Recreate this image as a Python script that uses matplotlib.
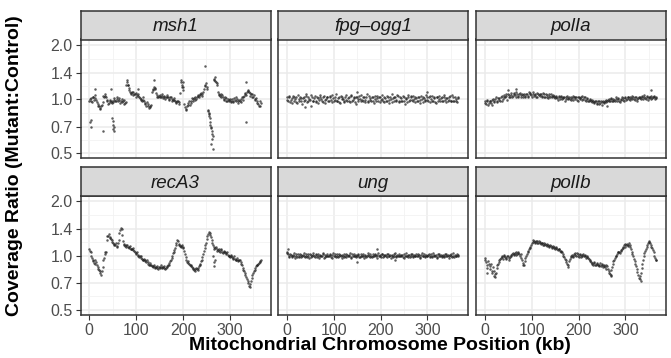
import numpy as np
import matplotlib.pyplot as plt
from matplotlib.ticker import FixedLocator, NullFormatter

plt.rcParams['font.family'] = ['Liberation Sans', 'DejaVu Sans']

# window start positions (kb): one window every 3 kb, plus the in-between windows
positions = np.arange(0, 367, 3)
positions_b = positions[:-1] + 1.5

genes = ['msh1', 'fpg\u2013ogg1', 'polIa', 'recA3', 'ung', 'polIb']

msh1 = [0.98, 1.01, 0.96, 1.03, 1.05, 0.99, 0.94, 0.91, 0.88, 0.93,
        1.04, 1.06, 1.02, 0.97, 0.95, 0.99, 0.98, 0.96, 1.01, 0.97,
        1.02, 0.99, 0.95, 1.00, 0.97, 0.94, 0.96, 1.24, 1.15, 1.10,
        1.07, 1.09, 1.06, 1.08, 1.05, 1.04, 1.01, 0.99, 1.02, 0.97,
        0.94, 0.96, 0.92, 0.90, 0.93, 1.12, 1.16, 1.13, 1.05, 1.03,
        1.05, 1.02, 1.04, 1.03, 1.00, 1.05, 1.02, 1.00, 1.03, 0.98,
        1.01, 0.97, 0.95, 0.98, 0.96, 1.24, 1.20, 1.12, 0.90, 0.88,
        0.93, 0.97, 0.95, 1.01, 0.98, 1.03, 1.00, 1.05, 1.02, 1.07,
        1.04, 1.10, 1.18, 1.22, 1.14, 0.84, 0.72, 0.66, 0.62, 1.30,
        1.24, 1.20, 1.06, 1.04, 1.07, 1.02, 0.99, 1.01, 0.97, 0.99,
        1.00, 0.96, 0.98, 1.01, 0.97, 1.00, 0.95, 0.98, 1.00, 0.99,
        1.04, 1.06, 1.10, 1.12, 1.08, 1.06, 1.03, 1.05, 1.00, 0.97,
        0.94, 0.92, 0.95]
msh1_b = [1.00, 0.97, 1.02, 0.99, 1.01, 0.96, 0.92, 0.89, 0.91, 0.96,
          1.02, 1.04, 0.99, 0.94, 0.97, 0.96, 0.95, 0.99, 0.98, 1.00,
          0.97, 1.01, 0.98, 0.96, 0.99, 0.95, 1.19, 1.20, 1.12, 1.08,
          1.10, 1.05, 1.07, 1.03, 1.06, 1.02, 1.00, 0.98, 0.99, 0.95,
          0.92, 0.94, 0.89, 0.91, 1.10, 1.14, 1.15, 1.08, 1.02, 1.04,
          1.03, 1.06, 1.01, 1.04, 1.02, 1.03, 0.99, 1.02, 1.00, 0.99,
          0.99, 0.96, 0.97, 0.94, 1.08, 1.28, 1.16, 0.94, 0.87, 0.91,
          0.95, 0.93, 0.98, 1.00, 1.01, 0.99, 1.03, 1.04, 1.05, 1.08,
          1.06, 1.14, 1.20, 1.17, 0.87, 0.78, 0.69, 0.60, 1.27, 1.26,
          1.22, 1.09, 1.05, 1.02, 1.05, 1.00, 1.03, 0.98, 1.00, 0.97,
          0.98, 1.00, 0.96, 0.99, 1.02, 0.97, 0.99, 0.96, 1.02, 1.03,
          1.08, 1.05, 1.11, 1.09, 1.04, 1.07, 1.02, 0.99, 1.01, 0.95,
          0.91, 0.97]

fpg_ogg1 = [1.02, 0.97, 1.04, 0.99, 0.95, 1.03, 1.00, 0.96, 1.05, 0.98,
            1.01, 0.94, 1.03, 0.99, 1.06, 0.97, 1.00, 0.92, 1.02, 0.98,
            1.04, 0.96, 1.01, 0.99, 1.05, 0.97, 1.03, 0.95, 1.00, 1.02,
            0.98, 1.04, 0.96, 1.01, 0.99, 1.06, 0.97, 1.02, 0.95, 1.03,
            1.00, 0.97, 1.05, 0.98, 1.02, 0.96, 1.04, 0.99, 1.01, 0.94,
            1.03, 0.98, 1.00, 1.05, 0.97, 1.02, 0.99, 1.06, 0.96, 1.01,
            0.98, 1.03, 0.95, 1.00, 1.04, 0.97, 1.02, 0.99, 1.05, 0.96,
            1.01, 0.98, 1.03, 0.95, 1.00, 1.06, 0.97, 1.02, 0.99, 1.04,
            0.96, 1.01, 0.98, 1.03, 0.94, 1.00, 1.05, 0.97, 1.02, 0.99,
            1.04, 0.96, 1.01, 0.98, 1.03, 0.95, 1.00, 1.02, 0.97, 1.05,
            0.99, 1.02, 0.96, 1.04, 0.98, 1.01, 0.95, 1.03, 1.00, 0.97,
            1.02, 0.98, 1.05, 0.96, 1.01, 0.99, 1.04, 0.97, 1.02, 0.98,
            1.00, 0.96, 1.03]
fpg_ogg1_b = [0.99, 1.03, 0.96, 1.01, 1.04, 0.98, 1.02, 0.95, 1.00, 1.03,
              0.97, 1.01, 0.98, 1.04, 0.96, 1.02, 0.99, 1.05, 0.97, 1.01,
              0.98, 1.03, 0.95, 1.02, 1.00, 0.96, 1.04, 0.99, 1.03, 0.97,
              1.02, 0.99, 1.05, 0.97, 1.03, 0.98, 1.01, 0.96, 1.04, 1.00,
              0.96, 1.03, 0.99, 1.01, 0.97, 1.05, 0.98, 1.02, 0.96, 1.03,
              1.00, 1.04, 0.97, 0.99, 1.03, 0.96, 1.02, 0.98, 1.04, 0.99,
              1.02, 0.97, 1.04, 0.98, 1.01, 1.03, 0.96, 1.00, 0.98, 1.03,
              0.97, 1.04, 0.99, 1.02, 0.96, 1.01, 1.03, 0.98, 1.05, 0.97,
              1.02, 0.98, 1.04, 0.97, 1.01, 0.96, 1.02, 0.99, 1.04, 0.97,
              1.00, 1.03, 0.97, 1.02, 0.99, 1.04, 0.96, 1.01, 0.99, 1.02,
              0.97, 1.04, 1.00, 0.98, 1.03, 0.96, 1.02, 0.98, 1.04, 1.01,
              0.97, 1.03, 0.99, 1.01, 0.97, 1.03, 0.98, 1.05, 0.97, 1.02,
              0.98, 1.01]

polla = [0.97, 0.94, 0.99, 0.95, 0.98, 0.93, 1.00, 0.96, 1.02, 0.98,
         1.01, 0.98, 1.04, 1.00, 1.02, 1.06, 0.99, 1.05, 1.03, 1.08,
         1.04, 1.07, 1.02, 1.06, 1.03, 1.08, 1.05, 1.02, 1.07, 1.04,
         1.06, 1.03, 1.08, 1.05, 1.09, 1.04, 1.07, 1.03, 1.06, 1.04,
         1.07, 1.03, 1.06, 1.02, 1.05, 1.01, 1.04, 1.06, 1.02, 1.04,
         1.01, 1.03, 0.99, 1.04, 1.02, 1.00, 1.03, 0.98, 1.02, 1.00,
         1.03, 0.99, 1.01, 1.04, 1.00, 1.02, 0.98, 1.03, 1.01, 1.04,
         1.00, 1.02, 0.98, 1.01, 0.97, 0.99, 0.96, 0.98, 0.95, 0.97,
         0.94, 0.97, 0.95, 0.93, 0.98, 0.96, 0.99, 0.97, 1.00, 0.98,
         1.01, 0.97, 0.99, 1.02, 0.98, 1.00, 0.96, 0.99, 1.01, 0.98,
         1.02, 1.00, 1.03, 0.99, 1.01, 1.04, 1.00, 1.02, 0.98, 1.01,
         1.03, 1.00, 1.02, 1.05, 1.01, 1.03, 0.99, 1.02, 1.04, 1.01,
         1.03, 1.00, 1.02]
polla_b = [0.95, 0.98, 0.93, 0.97, 0.95, 0.99, 0.97, 1.00, 0.96, 1.01,
           0.99, 1.03, 0.98, 1.05, 1.02, 1.04, 1.07, 1.02, 1.05, 1.03,
           1.08, 1.05, 1.09, 1.04, 1.06, 1.03, 1.07, 1.05, 1.03, 1.07,
           1.04, 1.09, 1.06, 1.03, 1.07, 1.05, 1.02, 1.08, 1.05, 1.07,
           1.04, 1.08, 1.03, 1.06, 1.03, 1.06, 1.02, 1.04, 1.05, 1.02,
           1.04, 1.01, 1.03, 1.00, 1.04, 1.01, 1.02, 1.00, 1.04, 1.01,
           1.00, 1.03, 0.99, 1.02, 1.03, 0.99, 1.02, 1.00, 1.02, 0.99,
           1.03, 0.99, 1.00, 0.98, 1.00, 0.97, 0.99, 0.96, 0.98, 0.95,
           0.97, 0.94, 0.97, 0.96, 0.95, 0.98, 0.96, 0.99, 0.97, 1.00,
           0.98, 1.00, 0.97, 1.00, 1.01, 0.98, 1.00, 1.02, 0.99, 1.01,
           0.99, 1.02, 1.00, 1.03, 1.00, 1.02, 0.99, 1.03, 1.00, 1.02,
           1.01, 1.04, 1.00, 1.03, 1.00, 1.04, 1.01, 1.03, 1.00, 1.02,
           1.04, 1.01]

recA3 = [1.08, 1.04, 0.97, 0.93, 0.90, 0.92, 0.86, 0.83, 0.80, 0.82,
         0.94, 1.02, 1.05, 1.28, 1.31, 1.25, 1.22, 1.18, 1.14, 1.17,
         1.12, 1.22, 1.38, 1.40, 1.20, 1.14, 1.12, 1.15, 1.10, 1.13,
         1.08, 1.10, 1.06, 1.02, 1.04, 0.99, 1.00, 0.97, 0.95, 0.96,
         0.93, 0.94, 0.90, 0.91, 0.88, 0.86, 0.89, 0.85, 0.87, 0.84,
         0.86, 0.88, 0.85, 0.87, 0.84, 0.86, 0.88, 0.91, 0.95, 1.00,
         1.05, 1.10, 1.18, 1.20, 1.14, 1.12, 1.15, 1.10, 1.02, 0.95,
         0.93, 0.90, 0.88, 0.86, 0.84, 0.82, 0.85, 0.83, 0.87, 0.90,
         0.95, 1.02, 1.10, 1.18, 1.28, 1.35, 1.30, 1.22, 1.15, 1.08,
         1.11, 1.06, 1.09, 1.05, 1.08, 1.03, 1.06, 1.02, 1.04, 1.00,
         0.98, 1.01, 0.96, 0.99, 0.94, 0.97, 0.93, 0.95, 0.90, 0.85,
         0.82, 0.78, 0.74, 0.70, 0.67, 0.72, 0.78, 0.82, 0.85, 0.88,
         0.90, 0.92, 0.94]
recA3_b = [1.06, 1.00, 0.95, 0.91, 0.94, 0.88, 0.84, 0.82, 0.78, 0.86,
           0.97, 1.04, 1.22, 1.29, 1.27, 1.23, 1.19, 1.16, 1.15, 1.13,
           1.18, 1.33, 1.42, 1.30, 1.16, 1.13, 1.14, 1.12, 1.11, 1.09,
           1.09, 1.07, 1.04, 1.03, 1.01, 0.98, 0.99, 0.96, 0.94, 0.95,
           0.92, 0.92, 0.89, 0.89, 0.87, 0.87, 0.86, 0.86, 0.85, 0.86,
           0.85, 0.86, 0.86, 0.85, 0.85, 0.87, 0.89, 0.93, 0.97, 1.03,
           1.07, 1.14, 1.22, 1.16, 1.13, 1.13, 1.12, 1.06, 0.98, 0.92,
           0.91, 0.89, 0.87, 0.85, 0.83, 0.84, 0.84, 0.85, 0.88, 0.93,
           0.98, 1.06, 1.14, 1.24, 1.32, 1.33, 1.26, 1.18, 1.12, 1.10,
           1.08, 1.07, 1.06, 1.07, 1.05, 1.04, 1.04, 1.03, 1.01, 0.99,
           1.00, 0.98, 0.97, 0.96, 0.95, 0.94, 0.94, 0.92, 0.88, 0.83,
           0.80, 0.76, 0.72, 0.68, 0.69, 0.75, 0.80, 0.83, 0.87, 0.89,
           0.91, 0.93]

ung = [1.05, 1.02, 0.98, 1.01, 0.99, 1.03, 0.97, 1.00, 1.02, 0.98,
       1.01, 0.99, 1.03, 0.98, 1.00, 1.02, 0.97, 1.01, 0.99, 1.03,
       0.98, 1.02, 1.00, 0.97, 1.01, 0.99, 1.03, 0.98, 1.00, 1.02,
       0.99, 1.01, 0.97, 1.03, 1.00, 0.98, 1.02, 0.99, 1.01, 0.97,
       1.00, 1.02, 0.98, 1.01, 0.99, 1.03, 0.97, 1.00, 1.02, 0.98,
       0.99, 1.01, 0.98, 1.02, 1.00, 0.97, 1.01, 0.99, 1.03, 0.98,
       1.00, 1.02, 0.99, 1.01, 0.97, 1.03, 1.00, 0.98, 1.02, 0.99,
       1.01, 0.98, 1.02, 1.00, 0.97, 1.01, 0.99, 1.03, 0.98, 1.00,
       1.02, 0.99, 1.01, 0.97, 1.00, 1.03, 0.98, 1.01, 0.99, 1.02,
       0.98, 1.00, 1.02, 0.99, 1.01, 0.97, 1.03, 1.00, 0.98, 1.01,
       0.99, 1.02, 0.98, 1.00, 1.03, 0.99, 1.01, 0.97, 1.02, 1.00,
       0.98, 1.01, 0.99, 1.02, 1.00, 0.97, 1.01, 0.99, 1.03, 0.98,
       1.00, 1.02, 0.99]
ung_b = [1.03, 0.99, 1.02, 0.98, 1.01, 0.99, 1.02, 0.98, 1.00, 1.02,
         0.98, 1.01, 0.99, 1.02, 0.98, 1.00, 1.02, 0.98, 1.01, 0.99,
         1.01, 0.98, 1.02, 0.99, 1.00, 1.02, 0.97, 1.01, 0.99, 1.00,
         1.02, 0.98, 1.01, 0.99, 1.02, 1.00, 0.98, 1.02, 0.99, 1.01,
         0.98, 1.00, 1.02, 0.99, 1.01, 0.98, 1.02, 0.99, 1.00, 1.01,
         1.02, 0.98, 1.00, 0.99, 1.02, 1.00, 0.98, 1.01, 0.99, 1.02,
         0.98, 1.00, 1.02, 0.99, 1.01, 0.99, 1.01, 1.02, 0.98, 1.01,
         0.99, 1.02, 0.99, 1.01, 1.00, 0.98, 1.02, 0.99, 1.01, 0.99,
         0.99, 1.01, 0.98, 1.02, 1.00, 0.99, 1.01, 0.98, 1.02, 1.00,
         1.01, 0.99, 1.00, 1.02, 0.98, 1.01, 0.99, 1.02, 1.00, 0.99,
         1.01, 0.99, 1.02, 0.98, 1.01, 1.00, 0.98, 1.02, 0.99, 1.01,
         1.00, 0.98, 1.02, 0.99, 1.01, 0.99, 1.02, 0.98, 1.00, 1.01,
         0.99, 1.01]

pollb = [0.97, 0.92, 0.85, 0.90, 0.87, 0.82, 0.86, 0.77, 0.80, 0.88,
         0.92, 0.96, 0.99, 0.96, 1.00, 0.97, 0.99, 0.95, 0.98, 1.01,
         1.03, 1.01, 1.04, 1.02, 1.03, 1.00, 1.02, 0.91, 0.89, 0.97,
         1.02, 1.06, 1.10, 1.15, 1.19, 1.21, 1.18, 1.20, 1.17, 1.19,
         1.16, 1.18, 1.14, 1.16, 1.13, 1.15, 1.11, 1.13, 1.10, 1.12,
         1.09, 1.11, 1.07, 1.08, 1.04, 1.05, 1.00, 0.96, 0.92, 0.88,
         0.93, 0.98, 1.01, 0.99, 1.03, 1.00, 1.02, 0.98, 1.01, 0.99,
         1.02, 1.00, 0.97, 0.99, 0.96, 0.93, 0.91, 0.89, 0.92, 0.88,
         0.90, 0.87, 0.91, 0.88, 0.86, 0.89, 0.84, 0.87, 0.82, 0.79,
         0.83, 0.90, 0.95, 0.99, 1.02, 1.05, 1.03, 1.07, 1.10, 1.14,
         1.12, 1.16, 1.13, 1.15, 1.08, 1.02, 0.96, 0.90, 0.84, 0.78,
         0.74, 0.80, 0.90, 1.00, 1.06, 1.12, 1.17, 1.20, 1.15, 1.10,
         1.04, 0.97, 0.94]
pollb_b = [0.94, 0.88, 0.93, 0.84, 0.90, 0.80, 0.82, 0.79, 0.85, 0.90,
           0.95, 0.97, 0.98, 1.01, 0.98, 0.96, 1.00, 0.97, 1.00, 1.02,
           1.02, 1.03, 1.01, 1.04, 1.02, 0.97, 0.95, 0.88, 0.93, 0.99,
           1.04, 1.08, 1.12, 1.17, 1.22, 1.19, 1.21, 1.18, 1.20, 1.17,
           1.17, 1.15, 1.17, 1.14, 1.16, 1.13, 1.14, 1.11, 1.13, 1.10,
           1.10, 1.08, 1.09, 1.06, 1.06, 1.02, 0.98, 0.94, 0.90, 0.86,
           0.96, 1.00, 0.98, 1.02, 1.01, 1.03, 1.00, 1.02, 0.98, 1.01,
           0.99, 1.01, 0.98, 0.97, 0.95, 0.92, 0.90, 0.91, 0.89, 0.91,
           0.88, 0.89, 0.87, 0.90, 0.87, 0.86, 0.88, 0.84, 0.80, 0.77,
           0.86, 0.93, 0.97, 1.00, 1.04, 1.04, 1.06, 1.08, 1.12, 1.16,
           1.14, 1.15, 1.17, 1.11, 1.05, 0.99, 0.93, 0.87, 0.81, 0.75,
           0.77, 0.85, 0.95, 1.03, 1.09, 1.15, 1.19, 1.17, 1.12, 1.07,
           0.99, 0.95]

# stray windows off the main band (kb, ratio)
msh1_extra = [(2, 0.74), (3, 0.70), (4, 0.76), (13, 1.14), (29, 0.66), (47, 1.13),
              (49, 0.78), (50, 0.72), (50, 0.75), (51, 0.68), (52, 0.66), (53, 0.70),
              (80, 1.28), (82, 1.20), (104, 1.13), (139, 1.28), (197, 1.16), (199, 1.25),
              (247, 1.52), (254, 0.86), (255, 0.82), (256, 0.80), (257, 0.74), (259, 0.70),
              (260, 0.56), (262, 0.64), (263, 0.53), (269, 1.33), (335, 1.24), (335, 0.74)]
fpg_extra = [(40, 0.90), (150, 1.09), (300, 1.09)]
polla_extra = [(50, 1.12), (66, 1.13), (260, 0.92), (355, 1.12)]
recA3_extra = [(264, 1.00), (265, 0.92), (266, 0.87), (268, 0.95)]
ung_extra = [(2, 1.08), (150, 0.92), (192, 1.09), (230, 0.94)]
pollb_extra = [(6, 0.80), (22, 0.76), (270, 0.78), (333, 0.72)]

series = [msh1, fpg_ogg1, polla, recA3, ung, pollb]
series_b = [msh1_b, fpg_ogg1_b, polla_b, recA3_b, ung_b, pollb_b]
extras = [msh1_extra, fpg_extra, polla_extra, recA3_extra, ung_extra, pollb_extra]

W, H = 671, 358
fig = plt.figure(figsize=(W / 100, H / 100), dpi=100)

col_left = [80.5, 278, 476]
col_w = 190
row_strip_top = [11, 167.5]
strip_h = 28.5
panel_h = 119

yt = [0.5, 0.7, 1.0, 1.4, 2.0]
yminor = [np.sqrt(a * b) for a, b in zip(yt[:-1], yt[1:])]
lim = np.exp(np.log(2) * 1.1)
dot = dict(s=3.2, color='#1a1a1a', alpha=0.7, linewidths=0)

for k, gene in enumerate(genes):
    r, c = divmod(k, 3)
    x0 = col_left[c]
    st = row_strip_top[r]
    ptop = st + strip_h
    ax = fig.add_axes([x0 / W, 1 - (ptop + panel_h) / H, col_w / W, panel_h / H])
    sax = fig.add_axes([x0 / W, 1 - ptop / H, col_w / W, strip_h / H])

    ax.set_yscale('log')
    ax.set_ylim(1 / lim, lim)
    ax.set_xlim(-18.4, 386.4)
    ax.yaxis.set_major_locator(FixedLocator(yt))
    ax.yaxis.set_minor_locator(FixedLocator(yminor))
    ax.yaxis.set_minor_formatter(NullFormatter())
    ax.set_xticks([0, 100, 200, 300])
    ax.set_xticks([50, 150, 250, 350], minor=True)
    ax.grid(True, which='major', color='#EBEBEB', lw=1.1)
    ax.grid(True, which='minor', color='#F2F2F2', lw=0.6)
    ax.set_axisbelow(True)
    for s in ax.spines.values():
        s.set_color('#333333')
        s.set_linewidth(1.1)
    ax.tick_params(which='minor', length=0)
    ax.tick_params(which='major', length=3.5, width=0.8, color='#333333',
                   labelsize=11.5, labelcolor='#4D4D4D', pad=2)
    if c == 0:
        ax.set_yticklabels(['%.1f' % v for v in yt])
    else:
        ax.tick_params(axis='y', left=False, labelleft=False)
    if r == 0:
        ax.tick_params(axis='x', bottom=False, labelbottom=False)

    ax.scatter(positions, series[k], **dot)
    ax.scatter(positions_b, series_b[k], **dot)
    ex = extras[k]
    ax.scatter([e[0] for e in ex], [e[1] for e in ex], **dot)

    sax.set_facecolor('#D9D9D9')
    sax.set_xticks([])
    sax.set_yticks([])
    for s in sax.spines.values():
        s.set_color('#333333')
        s.set_linewidth(1.1)
    sax.text(0.5, 0.45, gene, transform=sax.transAxes, ha='center', va='center',
             fontsize=13.5, style='italic', color='#1A1A1A')

fig.text(380 / W, 1 - 345 / H, 'Mitochondrial Chromosome Position (kb)',
         ha='center', va='center', fontsize=14, fontweight='bold')
fig.text(15 / W, 1 - 166 / H, 'Coverage Ratio (Mutant:Control)', rotation=90,
         ha='center', va='center', fontsize=14, fontweight='bold')

fig.savefig('out.png', dpi=100)
